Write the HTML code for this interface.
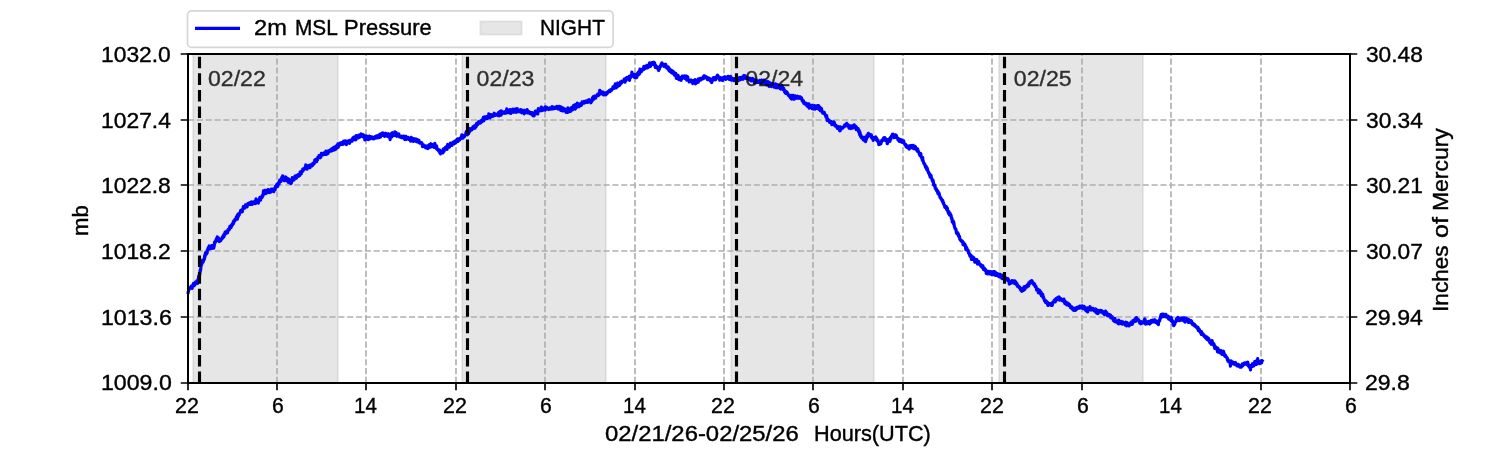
<!DOCTYPE html><html><head><meta charset="utf-8"><style>html,body{margin:0;padding:0;background:#fff;overflow:hidden}svg{display:block;will-change:transform}text{font-family:"Liberation Sans",sans-serif;stroke:#000;stroke-width:0.4px}</style></head><body>
<svg width="1500" height="450" viewBox="0 0 1500 450">
<rect x="0" y="0" width="1500" height="450" fill="#fff"/>
<rect x="193" y="54" width="145" height="329" fill="#808080" fill-opacity="0.2" stroke="#808080" stroke-opacity="0.14" stroke-width="2.08"/>
<rect x="462" y="54" width="144" height="329" fill="#808080" fill-opacity="0.2" stroke="#808080" stroke-opacity="0.14" stroke-width="2.08"/>
<rect x="731" y="54" width="143" height="329" fill="#808080" fill-opacity="0.2" stroke="#808080" stroke-opacity="0.14" stroke-width="2.08"/>
<rect x="999" y="54" width="144" height="329" fill="#808080" fill-opacity="0.2" stroke="#808080" stroke-opacity="0.14" stroke-width="2.08"/>
<path d="M188 383V54M277 383V54M366 383V54M456 383V54M545 383V54M635 383V54M724 383V54M813 383V54M903 383V54M992 383V54M1082 383V54M1171 383V54M1261 383V54M1350 383V54M188 383H1350M188 317H1350M188 251H1350M188 185H1350M188 120H1350M188 54H1350" stroke="#b0b0b0" stroke-width="1.67" stroke-dasharray="6.17 2.67" fill="none"/>
<path d="M188.2 292.5 188.5 290.82 188.8 290.16 189.1 287.86 189.4 289.14 189.7 288.74 190 288.7 190.3 287.83 190.6 288.1 190.9 287.34 191.2 286.18 191.5 288.07 191.8 287.75 192.1 288.26 192.4 286.27 192.7 285.49 193 285.03 193.3 283.7 193.6 285.93 193.9 283.51 194.2 283.11 194.5 283.77 194.8 285.16 195.1 283.58 195.4 281.99 195.7 281.98 196 283.11 196.3 282.1 196.6 281.27 196.9 281.59 197.2 282.35 197.5 283.38 197.8 279.91 198.1 280.32 198.4 279.51 198.7 276.43 199 276.48 199.3 274.92 199.6 275.64 199.9 272.92 200.2 269.96 200.5 270.8 200.8 268.33 201.1 265.48 201.4 265.18 201.7 264.18 202 263.09 202.3 263.2 202.6 260.11 202.9 261.31 203.2 261.8 203.5 260.84 203.8 260.3 204.1 259.52 204.4 259.09 204.7 255.67 205 256.85 205.3 253.45 205.6 254.04 205.9 252.05 206.2 254.36 206.5 253.97 206.8 251.75 207.1 253.06 207.4 249.92 207.7 250.08 208 249.4 208.3 247.5 208.6 248.34 208.9 249.18 209.2 245.97 209.5 247.91 209.8 246.84 210.1 248.78 210.4 247.49 210.7 247.68 211 247.65 211.3 247.25 211.6 245.59 211.9 248.4 212.2 245.62 212.5 247.24 212.8 247.62 213.1 246.16 213.4 247.15 213.7 248.18 214 246.98 214.3 245.15 214.6 242.16 214.9 243.17 215.2 242.6 215.5 241.73 215.8 240.33 216.1 240.73 216.4 238.82 216.7 238.34 217 238.18 217.3 236.99 217.6 237.9 217.9 240.72 218.2 239.78 218.5 237.95 218.8 239.52 219.1 240.52 219.4 241.54 219.7 240.8 220 240.47 220.3 239.84 220.6 240.81 220.9 240.06 221.2 238.8 221.5 238.71 221.8 238.06 222.1 238.79 222.4 236.94 222.7 237.71 223 237.66 223.3 236.87 223.6 235.12 223.9 236.89 224.2 234.44 224.5 235.13 224.8 233.52 225.1 232.12 225.4 233.75 225.7 233.45 226 232.72 226.3 232.72 226.6 231.43 226.9 230.98 227.2 231.19 227.5 232.92 227.8 231.46 228.1 229.76 228.4 230.48 228.7 229.08 229 228.74 229.3 229.71 229.6 227.95 229.9 226.43 230.2 226.77 230.5 227.3 230.8 226.87 231.1 227.52 231.4 225.08 231.7 226.07 232 225.29 232.3 224.24 232.6 224.76 232.9 223.94 233.2 222.1 233.5 223.58 233.8 220.8 234.1 221.62 234.4 221.09 234.7 221.04 235 219.41 235.3 219.64 235.6 219.06 235.9 219.73 236.2 217.46 236.5 217.86 236.8 217.05 237.1 215.56 237.4 219.16 237.7 215.99 238 214.17 238.3 216.69 238.6 213.79 238.9 214.84 239.2 214.94 239.5 213.01 239.8 212.83 240.1 212.32 240.4 212.34 240.7 210.43 241 210.42 241.3 211.12 241.6 211.91 241.9 211.1 242.2 211.81 242.5 210.37 242.8 208.75 243.1 208.78 243.4 206.55 243.7 207.33 244 206.97 244.3 207.97 244.6 208.05 244.9 206.54 245.2 206.21 245.5 204.94 245.8 206.07 246.1 206.15 246.4 206.05 246.7 204.51 247 207 247.3 205.9 247.6 204.3 247.9 203.57 248.2 203.48 248.5 203.65 248.8 203.18 249.1 203.47 249.4 203.71 249.7 204.26 250 203.99 250.3 202.67 250.6 203.12 250.9 202.29 251.2 202.04 251.5 204.51 251.8 202.07 252.1 204.49 252.4 202.08 252.7 202.64 253 203.43 253.3 202.31 253.6 202.63 253.9 201.94 254.2 201.65 254.5 201.92 254.8 201.38 255.1 203.59 255.4 201.63 255.7 203.39 256 198.8 256.3 201.37 256.6 201.77 256.9 200.75 257.2 202 257.5 201.39 257.8 200.32 258.1 200.89 258.4 203.13 258.7 200.4 259 200.3 259.3 199.11 259.6 199.23 259.9 197.35 260.2 198 260.5 200.23 260.8 198.38 261.1 197.5 261.4 197.51 261.7 197.85 262 196.1 262.3 197.14 262.6 195.68 262.9 194.32 263.2 195.43 263.5 190.87 263.8 192.22 264.1 192.62 264.4 190.98 264.7 191.29 265 190.36 265.3 190.34 265.6 193.73 265.9 191.63 266.2 190.95 266.5 192.32 266.8 190.76 267.1 191.89 267.4 191.35 267.7 192.64 268 189.57 268.3 191.77 268.6 191.12 268.9 189.83 269.2 192.07 269.5 190.12 269.8 192.63 270.1 191.52 270.4 191.7 270.7 191.08 271 191.91 271.3 189.12 271.6 191.08 271.9 190.37 272.2 191.08 272.5 190.45 272.8 190.82 273.1 189.06 273.4 191.45 273.7 191.63 274 188.79 274.3 188.68 274.6 188.69 274.9 189.37 275.2 189.71 275.5 186.29 275.8 186.58 276.1 185.83 276.4 185.48 276.7 184.65 277 186.37 277.3 184.35 277.6 186.55 277.9 185.47 278.2 183.04 278.5 182.56 278.8 182.5 279.1 184.05 279.4 181.3 279.7 180.18 280 181.15 280.3 181.1 280.6 179.58 280.9 181.39 281.2 179.52 281.5 179.26 281.8 177.46 282.1 177.99 282.4 177.98 282.7 175.94 283 178.62 283.3 176.63 283.6 178.5 283.9 177.15 284.2 180.77 284.5 179.16 284.8 179.8 285.1 179.96 285.4 177.8 285.7 176.93 286 179 286.3 180.34 286.6 179.63 286.9 180.42 287.2 180.68 287.5 178.33 287.8 180.22 288.1 182.13 288.4 180.03 288.7 179.01 289 181.27 289.3 181.48 289.6 182.82 289.9 181.95 290.2 182.89 290.5 180.27 290.8 183.06 291.1 183.5 291.4 182.91 291.7 179.77 292 181.32 292.3 177.69 292.6 180.69 292.9 180.04 293.2 178.8 293.5 179.85 293.8 179.34 294.1 179.85 294.4 178.73 294.7 178.54 295 176.04 295.3 176.53 295.6 176.92 295.9 177.4 296.2 176.83 296.5 178.1 296.8 175.46 297.1 175.84 297.4 176.09 297.7 175.35 298 175.83 298.3 174.51 298.6 176.26 298.9 174.26 299.2 175.46 299.5 174.05 299.8 175.34 300.1 172.17 300.4 173.85 300.7 172.65 301 173.07 301.3 173.78 301.6 171.19 301.9 170.75 302.2 170.73 302.5 171.59 302.8 169.03 303.1 170.63 303.4 168.84 303.7 168.58 304 168.96 304.3 169.32 304.6 167.9 304.9 167.64 305.2 167.87 305.5 167.51 305.8 164.96 306.1 167.1 306.4 167.49 306.7 168.38 307 169.2 307.3 167.69 307.6 166.97 307.9 165.79 308.2 166.72 308.5 167.28 308.8 167.65 309.1 165.36 309.4 166.35 309.7 166.81 310 167.73 310.3 165.99 310.6 165.05 310.9 164.78 311.2 164.98 311.5 164.56 311.8 165.92 312.1 165.97 312.4 165.29 312.7 165.43 313 163.44 313.3 163.95 313.6 162.85 313.9 162.95 314.2 163.81 314.5 162.22 314.8 160.04 315.1 161.34 315.4 160.54 315.7 159.41 316 159.8 316.3 161.24 316.6 161.63 316.9 159.12 317.2 160.29 317.5 160.14 317.8 157.45 318.1 158.25 318.4 157.92 318.7 157.8 319 155.69 319.3 156.62 319.6 157.71 319.9 157.58 320.2 157.82 320.5 155.31 320.8 157.2 321.1 155.66 321.4 153.29 321.7 155.1 322 153.65 322.3 154.42 322.6 153.7 322.9 154.92 323.2 153.86 323.5 153.22 323.8 154.37 324.1 153.56 324.4 152.78 324.7 154.39 325 152.59 325.3 152.26 325.6 152.26 325.9 151.22 326.2 152.04 326.5 154.37 326.8 151.49 327.1 152.31 327.4 151.08 327.7 151.48 328 153.53 328.3 152.75 328.6 151.09 328.9 151.56 329.2 150.57 329.5 150.46 329.8 150.18 330.1 150.05 330.4 151.13 330.7 151.25 331 150.99 331.3 150.18 331.6 148.83 331.9 149.98 332.2 148.97 332.5 150.64 332.8 150.16 333.1 150.2 333.4 148.95 333.7 147.33 334 149.96 334.3 149.99 334.6 147.01 334.9 148.39 335.2 149.2 335.5 146.67 335.8 149.28 336.1 146.9 336.4 145.92 336.7 148.13 337 146.8 337.3 145.59 337.6 146.89 337.9 143.78 338.2 147.33 338.5 144.43 338.8 145.29 339.1 144.35 339.4 144.94 339.7 145.14 340 143.17 340.3 144.72 340.6 143.55 340.9 143.08 341.2 143.47 341.5 142.61 341.8 142.75 342.1 144.43 342.4 143.25 342.7 144.47 343 143.68 343.3 142.14 343.6 141.19 343.9 142.33 344.2 143.22 344.5 142.88 344.8 141.96 345.1 143.75 345.4 140.89 345.7 141.31 346 142.63 346.3 144.63 346.6 142.77 346.9 141.26 347.2 142.8 347.5 142.81 347.8 142.99 348.1 141.54 348.4 140.99 348.7 141.77 349 141.92 349.3 142.96 349.6 143.3 349.9 140.31 350.2 140.37 350.5 140.69 350.8 140.35 351.1 140.94 351.4 140.79 351.7 140.41 352 141.35 352.3 139.69 352.6 138.64 352.9 137.98 353.2 138.36 353.5 138.2 353.8 137.2 354.1 139.61 354.4 138.96 354.7 138.17 355 137.53 355.3 136.66 355.6 137.16 355.9 139.78 356.2 135.52 356.5 137.71 356.8 138.15 357.1 137.37 357.4 136.74 357.7 137.66 358 135.6 358.3 137.1 358.6 137.81 358.9 135.15 359.2 135.2 359.5 135.99 359.8 136.68 360.1 136.86 360.4 136.03 360.7 134.5 361 133.88 361.3 135.37 361.6 135.66 361.9 134.28 362.2 135.57 362.5 135.98 362.8 136.82 363.1 134.9 363.4 136.59 363.7 134.98 364 135.86 364.3 136.34 364.6 138.07 364.9 140.01 365.2 137.06 365.5 137.43 365.8 138.07 366.1 135.81 366.4 138.09 366.7 136.19 367 139.21 367.3 139.15 367.6 138.33 367.9 137.14 368.2 139.66 368.5 138.2 368.8 138.01 369.1 138.45 369.4 136.1 369.7 138.22 370 138.75 370.3 138.05 370.6 137.82 370.9 136.68 371.2 138.25 371.5 137.76 371.8 137.53 372.1 136.92 372.4 138.31 372.7 138.67 373 137.77 373.3 138.24 373.6 138.64 373.9 138.86 374.2 137.45 374.5 136.97 374.8 136.73 375.1 137.13 375.4 137.63 375.7 137.98 376 136.57 376.3 137.04 376.6 135.77 376.9 137.94 377.2 136.16 377.5 136.8 377.8 135.6 378.1 135.91 378.4 135.41 378.7 137.7 379 136.24 379.3 135.59 379.6 134.7 379.9 134.92 380.2 136 380.5 136.99 380.8 133.76 381.1 134.16 381.4 134.8 381.7 134.23 382 133.08 382.3 134.66 382.6 135.28 382.9 132.82 383.2 134.51 383.5 135.16 383.8 135.06 384.1 133.61 384.4 136.45 384.7 134.79 385 133.52 385.3 135.42 385.6 133.4 385.9 135.54 386.2 133.46 386.5 135.63 386.8 134.35 387.1 136.17 387.4 135.88 387.7 135.68 388 135.39 388.3 136.53 388.6 133.72 388.9 136.07 389.2 136.15 389.5 136.4 389.8 136.77 390.1 139.69 390.4 135.96 390.7 136.53 391 135.75 391.3 137.06 391.6 133.32 391.9 136.95 392.2 134.43 392.5 132.72 392.8 133.79 393.1 134.58 393.4 134.84 393.7 134.47 394 135.22 394.3 134.24 394.6 134.1 394.9 131.88 395.2 134.57 395.5 135.22 395.8 133.9 396.1 132.55 396.4 133.21 396.7 136.37 397 134.19 397.3 134.25 397.6 134.21 397.9 135.85 398.2 134.69 398.5 134.52 398.8 134 399.1 135.53 399.4 136.77 399.7 135.73 400 136.89 400.3 136.3 400.6 136.39 400.9 136.54 401.2 136.51 401.5 137.63 401.8 137.21 402.1 136.26 402.4 137.09 402.7 137 403 137.69 403.3 137.5 403.6 137.86 403.9 136.07 404.2 138.06 404.5 139.12 404.8 136.56 405.1 139.63 405.4 138.38 405.7 137.93 406 136.38 406.3 139.36 406.6 137.34 406.9 137.87 407.2 138.99 407.5 137.47 407.8 137.57 408.1 137.46 408.4 138.57 408.7 139.33 409 139.21 409.3 139.27 409.6 138.57 409.9 139.12 410.2 138.34 410.5 141.11 410.8 139.36 411.1 137.25 411.4 138.2 411.7 140.95 412 138.02 412.3 139.02 412.6 139.93 412.9 138.48 413.2 140.71 413.5 141.39 413.8 138.93 414.1 140.96 414.4 138.98 414.7 138.93 415 140.25 415.3 140.39 415.6 139.7 415.9 141.3 416.2 139.12 416.5 139.89 416.8 139.81 417.1 141.81 417.4 142.01 417.7 142.02 418 140.19 418.3 141.78 418.6 142.26 418.9 140.32 419.2 141.27 419.5 142.9 419.8 143.11 420.1 142.81 420.4 143.25 420.7 143.18 421 143.15 421.3 143.14 421.6 142.62 421.9 143.5 422.2 143.59 422.5 146.58 422.8 144.76 423.1 144.74 423.4 144.77 423.7 145.13 424 145.23 424.3 146.3 424.6 145.97 424.9 147.07 425.2 145.8 425.5 147.1 425.8 147.88 426.1 146.09 426.4 147.67 426.7 148 427 147.66 427.3 147.33 427.6 145.77 427.9 148.62 428.2 146.34 428.5 145.85 428.8 147.58 429.1 144.89 429.4 147.53 429.7 146.82 430 146.8 430.3 145.85 430.6 144.61 430.9 143.76 431.2 146.95 431.5 144.82 431.8 144.6 432.1 146.64 432.4 144.56 432.7 145.11 433 145.26 433.3 145.51 433.6 144.75 433.9 145.39 434.2 147.39 434.5 147.02 434.8 143.4 435.1 144.58 435.4 147.04 435.7 146.74 436 146.62 436.3 148.41 436.6 145.92 436.9 149.29 437.2 148.57 437.5 149.35 437.8 149.42 438.1 150.37 438.4 149.63 438.7 149.69 439 151.39 439.3 151.14 439.6 150.06 439.9 153.04 440.2 153.26 440.5 153.85 440.8 152.84 441.1 153.25 441.4 152.22 441.7 151.32 442 152.07 442.3 151.88 442.6 150.73 442.9 152.94 443.2 149.17 443.5 149.68 443.8 149.52 444.1 151.2 444.4 149.34 444.7 148.97 445 148.11 445.3 147.93 445.6 147.09 445.9 149.12 446.2 148.41 446.5 148.5 446.8 146.53 447.1 149.47 447.4 145.76 447.7 144.49 448 146.08 448.3 146.33 448.6 146.76 448.9 144.79 449.2 146.22 449.5 147.16 449.8 144.39 450.1 144.32 450.4 143.16 450.7 144.93 451 145.36 451.3 145.09 451.6 144.96 451.9 145.36 452.2 143.88 452.5 144.52 452.8 142.42 453.1 142.39 453.4 143.24 453.7 141.99 454 143.2 454.3 143.82 454.6 142.66 454.9 141.32 455.2 141.11 455.5 143.03 455.8 140.64 456.1 141.32 456.4 140.76 456.7 140.86 457 141.7 457.3 139.85 457.6 138.76 457.9 141.43 458.2 139.98 458.5 140.28 458.8 139.32 459.1 139.91 459.4 140.19 459.7 140.09 460 138.22 460.3 137.94 460.6 138.48 460.9 138.08 461.2 138.23 461.5 136.73 461.8 134.9 462.1 137.48 462.4 137.61 462.7 137.26 463 138.07 463.3 137.05 463.6 135.59 463.9 136.76 464.2 135.47 464.5 136.61 464.8 135.38 465.1 135.37 465.4 134.87 465.7 134.42 466 132.59 466.3 133.89 466.6 131.27 466.9 133.79 467.2 134.02 467.5 134.82 467.8 132.86 468.1 131.49 468.4 130.34 468.7 133.63 469 129.96 469.3 132.03 469.6 128.54 469.9 130.54 470.2 131.01 470.5 130.38 470.8 129.74 471.1 128.68 471.4 128.33 471.7 129.99 472 129.14 472.3 128.27 472.6 128.37 472.9 126.96 473.2 128.65 473.5 128.62 473.8 126.29 474.1 126.91 474.4 127.6 474.7 125.62 475 128.05 475.3 127.28 475.6 125.24 475.9 126.27 476.2 126.71 476.5 123.55 476.8 125.18 477.1 124.17 477.4 123.86 477.7 124.56 478 123.12 478.3 121.95 478.6 121.69 478.9 122.86 479.2 123.27 479.5 122.38 479.8 122.01 480.1 121.9 480.4 123.02 480.7 122.04 481 120.55 481.3 120.8 481.6 122.09 481.9 120.08 482.2 120.06 482.5 120.22 482.8 118.96 483.1 120.73 483.4 117.41 483.7 120.87 484 118.76 484.3 117.72 484.6 119.06 484.9 116.84 485.2 118.89 485.5 118.92 485.8 117.35 486.1 117.33 486.4 118.47 486.7 116.62 487 117.2 487.3 117.41 487.6 118.52 487.9 116.32 488.2 116.74 488.5 117.73 488.8 113.9 489.1 116.08 489.4 114.31 489.7 114.26 490 117.97 490.3 116.09 490.6 117.26 490.9 115.4 491.2 116.07 491.5 114.97 491.8 114.74 492.1 115.1 492.4 115.18 492.7 116.48 493 114.62 493.3 115.08 493.6 114.39 493.9 114.74 494.2 113.22 494.5 115.59 494.8 113.91 495.1 114.43 495.4 114.12 495.7 115.27 496 114.75 496.3 114.19 496.6 114.3 496.9 114.42 497.2 114.78 497.5 114.48 497.8 115.21 498.1 115.49 498.4 114.43 498.7 112.42 499 115.46 499.3 115.82 499.6 113.23 499.9 113.13 500.2 111.42 500.5 114.22 500.8 112.37 501.1 115.18 501.4 110.78 501.7 113.27 502 113.8 502.3 112.64 502.6 112.17 502.9 113.15 503.2 112.29 503.5 112.4 503.8 112.64 504.1 112.04 504.4 112.3 504.7 113.24 505 111.98 505.3 112.47 505.6 111.46 505.9 113.07 506.2 110.78 506.5 112.96 506.8 108.88 507.1 110.93 507.4 110.17 507.7 112.72 508 111.9 508.3 110.23 508.6 110.9 508.9 112.75 509.2 111.26 509.5 111.84 509.8 109.72 510.1 109.7 510.4 111.76 510.7 113.48 511 110.58 511.3 111.7 511.6 110.12 511.9 112.3 512.2 110.56 512.5 110.55 512.8 109.05 513.1 110.51 513.4 111.09 513.7 112.26 514 109.67 514.3 111.81 514.6 110.45 514.9 110.48 515.2 109.78 515.5 109 515.8 109.46 516.1 112.3 516.4 109.48 516.7 110.26 517 111.83 517.3 108.61 517.6 111.2 517.9 110.26 518.2 110.98 518.5 111.68 518.8 110.67 519.1 110.65 519.4 111.6 519.7 111.53 520 110.18 520.3 110.73 520.6 109.59 520.9 112.26 521.2 109.76 521.5 111.19 521.8 112.78 522.1 111.85 522.4 110.77 522.7 110.35 523 110.47 523.3 112.05 523.6 111.49 523.9 111.16 524.2 113.81 524.5 110.37 524.8 110.74 525.1 110.87 525.4 111.53 525.7 111.75 526 111.29 526.3 112.43 526.6 112.36 526.9 111.64 527.2 109.6 527.5 112.99 527.8 111.36 528.1 111.79 528.4 112.42 528.7 111.44 529 112 529.3 113 529.6 112.71 529.9 113.5 530.2 112.43 530.5 113.19 530.8 112.48 531.1 113.39 531.4 114.09 531.7 113.68 532 112.61 532.3 113.99 532.6 114.46 532.9 115.58 533.2 114.53 533.5 114.04 533.8 113.03 534.1 115.97 534.4 112.77 534.7 112.35 535 113.09 535.3 111.17 535.6 113.84 535.9 112.71 536.2 112.77 536.5 111.05 536.8 111.29 537.1 112.42 537.4 112.23 537.7 113.93 538 111.94 538.3 108.69 538.6 110.45 538.9 109.75 539.2 110.98 539.5 109.55 539.8 109.89 540.1 108.91 540.4 109.83 540.7 110.67 541 108.56 541.3 107.11 541.6 108.1 541.9 110.69 542.2 109.33 542.5 108.79 542.8 108.09 543.1 110.1 543.4 109.32 543.7 108.89 544 108.44 544.3 108.81 544.6 108.63 544.9 109.51 545.2 110.19 545.5 106.92 545.8 107.41 546.1 108.76 546.4 108.91 546.7 107.25 547 108.17 547.3 108.37 547.6 108.31 547.9 108.27 548.2 108.63 548.5 109.59 548.8 109.42 549.1 109.26 549.4 108.91 549.7 107.85 550 108.04 550.3 109.17 550.6 108.53 550.9 109.17 551.2 108.58 551.5 108.32 551.8 108.65 552.1 106.61 552.4 107.94 552.7 107.46 553 108.85 553.3 107.27 553.6 108.13 553.9 107.41 554.2 108.26 554.5 108.45 554.8 107.47 555.1 107.73 555.4 107.75 555.7 108.3 556 107.13 556.3 107.45 556.6 106.93 556.9 106.33 557.2 107.42 557.5 107.73 557.8 106.6 558.1 109.11 558.4 106.88 558.7 108.5 559 108.23 559.3 106.25 559.6 108.05 559.9 106.6 560.2 108.19 560.5 109.09 560.8 110.38 561.1 109.42 561.4 107.2 561.7 108.5 562 110.48 562.3 109.26 562.6 110.97 562.9 108.55 563.2 108.81 563.5 108.1 563.8 109.17 564.1 110.91 564.4 108.8 564.7 110.67 565 110.38 565.3 110.8 565.6 109.84 565.9 110.21 566.2 112.43 566.5 109.11 566.8 111.23 567.1 112.09 567.4 111.11 567.7 112.4 568 107.83 568.3 110.61 568.6 109.82 568.9 110.67 569.2 111.07 569.5 111.54 569.8 109.95 570.1 111.46 570.4 108.75 570.7 111.07 571 109.61 571.3 107.83 571.6 107.59 571.9 107.33 572.2 107.9 572.5 108.78 572.8 109.75 573.1 108.98 573.4 106.6 573.7 105.38 574 107.16 574.3 105.79 574.6 106.81 574.9 106.05 575.2 109.1 575.5 104.53 575.8 106.35 576.1 107.7 576.4 105.28 576.7 104.78 577 107.13 577.3 103.16 577.6 103.44 577.9 103.8 578.2 105.32 578.5 105.56 578.8 104.53 579.1 106.73 579.4 104.19 579.7 104.27 580 103.84 580.3 105.26 580.6 103.91 580.9 103.37 581.2 105.35 581.5 104.83 581.8 104.41 582.1 101.98 582.4 102.06 582.7 102.77 583 102.63 583.3 102.33 583.6 102.41 583.9 103.17 584.2 101.36 584.5 102.51 584.8 101.73 585.1 101.52 585.4 101.61 585.7 102.58 586 102.04 586.3 100.9 586.6 101.96 586.9 101.69 587.2 101.91 587.5 101.15 587.8 102.36 588.1 101.67 588.4 100.06 588.7 99.85 589 99.65 589.3 101.41 589.6 100.24 589.9 100.51 590.2 100.73 590.5 101.97 590.8 102.81 591.1 100.22 591.4 102.08 591.7 100.36 592 100.76 592.3 98.99 592.6 97.75 592.9 99.23 593.2 99.78 593.5 96.63 593.8 97.88 594.1 97.9 594.4 98.02 594.7 96.05 595 96.32 595.3 97.56 595.6 98.18 595.9 96.19 596.2 96.85 596.5 95.83 596.8 95.89 597.1 94.86 597.4 94.82 597.7 94.27 598 94.75 598.3 95.56 598.6 94.43 598.9 94.7 599.2 93.19 599.5 94.36 599.8 90.24 600.1 91.87 600.4 93.01 600.7 91.54 601 94 601.3 93.67 601.6 92.58 601.9 93.64 602.2 92.05 602.5 92.71 602.8 93.27 603.1 92.07 603.4 94.8 603.7 93.11 604 94.86 604.3 93.71 604.6 94.22 604.9 93.02 605.2 93.67 605.5 93.43 605.8 93.88 606.1 94.82 606.4 92.65 606.7 92.85 607 93.17 607.3 93.46 607.6 92.27 607.9 91.79 608.2 91.37 608.5 91.76 608.8 91.79 609.1 90.64 609.4 90.81 609.7 91.68 610 90.68 610.3 89.91 610.6 91 610.9 90.79 611.2 90.48 611.5 90.32 611.8 89.04 612.1 89.43 612.4 89.32 612.7 88.9 613 86.78 613.3 88.31 613.6 88.45 613.9 88.37 614.2 87.35 614.5 87.46 614.8 85.38 615.1 85.47 615.4 83.76 615.7 86.29 616 87.94 616.3 87.84 616.6 84.71 616.9 86.28 617.2 86.67 617.5 84.87 617.8 82.97 618.1 86.16 618.4 84.14 618.7 83.88 619 85.78 619.3 84.3 619.6 84.45 619.9 85 620.2 83.02 620.5 81.99 620.8 83.58 621.1 82.59 621.4 83.14 621.7 82.6 622 81.23 622.3 81.83 622.6 81.27 622.9 81.17 623.2 81.17 623.5 81.37 623.8 81.03 624.1 79.34 624.4 81.06 624.7 78.78 625 82.26 625.3 79.06 625.6 79.57 625.9 80.79 626.2 79.04 626.5 77.76 626.8 77.4 627.1 78.93 627.4 78.86 627.7 79.08 628 78.32 628.3 77.31 628.6 78.03 628.9 78.76 629.2 76.25 629.5 80.41 629.8 76.14 630.1 77.58 630.4 77.97 630.7 76.74 631 75.88 631.3 76.05 631.6 76.42 631.9 72.16 632.2 75.34 632.5 74.66 632.8 74.56 633.1 75.57 633.4 75.83 633.7 76.34 634 75.45 634.3 77.37 634.6 74.31 634.9 75.64 635.2 75.58 635.5 77.1 635.8 76.68 636.1 77.7 636.4 75.92 636.7 77.56 637 76.56 637.3 74.84 637.6 73.2 637.9 73.25 638.2 72.44 638.5 74.8 638.8 73.86 639.1 71.37 639.4 74.1 639.7 71.45 640 69.02 640.3 72.19 640.6 72.2 640.9 70.69 641.2 69.57 641.5 71.52 641.8 69.56 642.1 69.84 642.4 70.13 642.7 69.76 643 68.78 643.3 67.98 643.6 69.59 643.9 66.39 644.2 68.75 644.5 68.48 644.8 68.54 645.1 67.43 645.4 67.82 645.7 68.19 646 66.13 646.3 67.03 646.6 67.16 646.9 65.33 647.2 65.49 647.5 67.89 647.8 67.18 648.1 65.23 648.4 66.56 648.7 66.09 649 66.94 649.3 66.52 649.6 62.76 649.9 64.75 650.2 66.29 650.5 66.4 650.8 63.97 651.1 63.19 651.4 64.54 651.7 63.48 652 63.96 652.3 62.64 652.6 64.44 652.9 64.09 653.2 63.82 653.5 62.42 653.8 62.16 654.1 62.9 654.4 65.03 654.7 63.04 655 65.86 655.3 67.31 655.6 65.23 655.9 66 656.2 67.52 656.5 67.78 656.8 66.57 657.1 67.35 657.4 67.98 657.7 67.93 658 69.11 658.3 69.2 658.6 70.51 658.9 67.18 659.2 69.48 659.5 68.5 659.8 66.93 660.1 66.88 660.4 66.83 660.7 65.54 661 64.37 661.3 64.29 661.6 63.41 661.9 62.88 662.2 63.42 662.5 63.62 662.8 64.69 663.1 65.4 663.4 64.94 663.7 66.26 664 64.8 664.3 64.34 664.6 64.35 664.9 64.28 665.2 64.98 665.5 66.94 665.8 64.42 666.1 66.81 666.4 66.6 666.7 67.81 667 66.85 667.3 68.41 667.6 67.53 667.9 69.02 668.2 66.77 668.5 69.59 668.8 70.2 669.1 68.2 669.4 70.96 669.7 69.14 670 71.47 670.3 70.66 670.6 71.54 670.9 71.41 671.2 70.01 671.5 72.96 671.8 72.81 672.1 70.74 672.4 72.53 672.7 72.61 673 71.64 673.3 71.46 673.6 73.99 673.9 72.48 674.2 73.98 674.5 75.17 674.8 74 675.1 73.02 675.4 75.31 675.7 73.34 676 74.22 676.3 78.49 676.6 75.14 676.9 76.7 677.2 75.69 677.5 77.04 677.8 77.77 678.1 75.3 678.4 77.71 678.7 79.44 679 79.56 679.3 78.93 679.6 77.55 679.9 78.81 680.2 77.82 680.5 77.45 680.8 78.13 681.1 80.34 681.4 77.04 681.7 78.91 682 78.03 682.3 76.18 682.6 76.67 682.9 77.32 683.2 76.93 683.5 77.58 683.8 76.22 684.1 76.11 684.4 78.05 684.7 76.91 685 76 685.3 76.76 685.6 78.88 685.9 76.71 686.2 76.07 686.5 78.78 686.8 80.08 687.1 79.64 687.4 77.31 687.7 76.83 688 80.44 688.3 79.26 688.6 80.21 688.9 79.78 689.2 81.93 689.5 80.58 689.8 80.45 690.1 81.18 690.4 80.1 690.7 81.74 691 81.75 691.3 79.97 691.6 81.22 691.9 81.37 692.2 81.08 692.5 82.93 692.8 83.62 693.1 82.71 693.4 80.8 693.7 80.41 694 82.9 694.3 81.71 694.6 81.83 694.9 80.53 695.2 79.7 695.5 83.89 695.8 80.95 696.1 81.28 696.4 80.23 696.7 82.83 697 80.84 697.3 80.94 697.6 81.06 697.9 80.91 698.2 82.26 698.5 78.91 698.8 81.25 699.1 79.81 699.4 79.84 699.7 79.45 700 80.31 700.3 78.41 700.6 78.98 700.9 79.9 701.2 78.58 701.5 78.49 701.8 79.17 702.1 78.7 702.4 78.09 702.7 78.3 703 77.17 703.3 78.74 703.6 76.59 703.9 75.89 704.2 77.76 704.5 75.82 704.8 76 705.1 76.56 705.4 77.44 705.7 76.47 706 76.72 706.3 76.96 706.6 77.99 706.9 77.32 707.2 78.29 707.5 79.64 707.8 78.27 708.1 78.34 708.4 78 708.7 78.39 709 78.13 709.3 78.49 709.6 79.23 709.9 80.38 710.2 80.75 710.5 80.05 710.8 80.9 711.1 79.12 711.4 82.35 711.7 82.6 712 79.84 712.3 80.31 712.6 79.75 712.9 80.28 713.2 78.71 713.5 77.66 713.8 79.84 714.1 77.78 714.4 79.08 714.7 77.64 715 77.64 715.3 79.25 715.6 79.73 715.9 77.8 716.2 77.37 716.5 77.94 716.8 76.94 717.1 75.59 717.4 77.27 717.7 75.23 718 78.1 718.3 77.35 718.6 78.24 718.9 76.76 719.2 77.67 719.5 79.18 719.8 80.17 720.1 79.76 720.4 79.28 720.7 77.74 721 79.4 721.3 78.93 721.6 78.45 721.9 80.05 722.2 77.93 722.5 80.45 722.8 78 723.1 77.94 723.4 78.49 723.7 77.23 724 78.06 724.3 78.58 724.6 76.76 724.9 77.6 725.2 77.01 725.5 77.93 725.8 79.49 726.1 77.88 726.4 78.1 726.7 78.48 727 77.11 727.3 78.42 727.6 77.64 727.9 77.48 728.2 76.38 728.5 77.44 728.8 79.09 729.1 79.23 729.4 77.69 729.7 78.03 730 77.5 730.3 76.94 730.6 76.35 730.9 80 731.2 77.42 731.5 78.74 731.8 80.21 732.1 78.39 732.4 78.73 732.7 79.29 733 78.78 733.3 79.52 733.6 79.05 733.9 80.65 734.2 80.13 734.5 78.57 734.8 78.54 735.1 79.3 735.4 79.27 735.7 79.08 736 80.7 736.3 78.99 736.6 79.19 736.9 79.74 737.2 77.54 737.5 79.91 737.8 80 738.1 80.77 738.4 78.32 738.7 78.78 739 79.4 739.3 78.75 739.6 77.6 739.9 79.92 740.2 78.61 740.5 79.09 740.8 77.51 741.1 79.41 741.4 77.94 741.7 77.42 742 78.79 742.3 78.96 742.6 76.76 742.9 78.55 743.2 79.03 743.5 77.51 743.8 75.68 744.1 77.52 744.4 77.87 744.7 75.63 745 78.18 745.3 76.46 745.6 76.68 745.9 78.06 746.2 77.32 746.5 78.51 746.8 77.39 747.1 77.95 747.4 77.73 747.7 78.1 748 78.59 748.3 78.64 748.6 78 748.9 79.4 749.2 78.52 749.5 79.97 749.8 79.53 750.1 78.97 750.4 78.47 750.7 79.4 751 80.9 751.3 79.85 751.6 80.79 751.9 79.87 752.2 79.79 752.5 79.56 752.8 78.45 753.1 80.87 753.4 80.74 753.7 80.8 754 81.79 754.3 80.16 754.6 83.01 754.9 79.98 755.2 81.75 755.5 80.3 755.8 81.23 756.1 82.67 756.4 80 756.7 81.68 757 81.61 757.3 81.68 757.6 81.75 757.9 82.3 758.2 81.99 758.5 81.88 758.8 82.39 759.1 82.16 759.4 81.37 759.7 80.26 760 82.29 760.3 81.18 760.6 83.21 760.9 81.02 761.2 80.4 761.5 82.78 761.8 80.92 762.1 80.19 762.4 82.92 762.7 80.3 763 83.12 763.3 80.86 763.6 82.26 763.9 82.1 764.2 80.08 764.5 81.92 764.8 81.54 765.1 82.15 765.4 82.68 765.7 83.86 766 82.15 766.3 82.41 766.6 84.8 766.9 83.48 767.2 83.63 767.5 81.45 767.8 81.7 768.1 82.67 768.4 83.16 768.7 83.96 769 86.34 769.3 82.44 769.6 83.41 769.9 84.58 770.2 84.33 770.5 85.3 770.8 83.99 771.1 83.49 771.4 86.61 771.7 85.06 772 83.53 772.3 84.5 772.6 84.89 772.9 83.56 773.2 85.96 773.5 85.44 773.8 85.03 774.1 84.85 774.4 87.28 774.7 85.65 775 85.06 775.3 83.89 775.6 84.99 775.9 86.87 776.2 87.79 776.5 85.22 776.8 84.45 777.1 86.65 777.4 86.68 777.7 87.71 778 86.24 778.3 87.12 778.6 85.2 778.9 85.89 779.2 86.64 779.5 86.81 779.8 87.85 780.1 88.61 780.4 86 780.7 89.19 781 86.8 781.3 87.19 781.6 88.81 781.9 85.32 782.2 86.33 782.5 87.02 782.8 88 783.1 89.22 783.4 89.73 783.7 88.21 784 90.39 784.3 89.71 784.6 92.13 784.9 90.85 785.2 92.7 785.5 91.1 785.8 93.42 786.1 91.66 786.4 93.35 786.7 91.81 787 93.49 787.3 93.04 787.6 93.06 787.9 94.48 788.2 95.23 788.5 94.76 788.8 95.16 789.1 95.77 789.4 96.47 789.7 96.47 790 96.05 790.3 97.86 790.6 95.54 790.9 97.05 791.2 95.3 791.5 99.06 791.8 96.6 792.1 97.15 792.4 98.42 792.7 96.87 793 96.25 793.3 95.27 793.6 96.9 793.9 99.28 794.2 97.42 794.5 99.03 794.8 98.16 795.1 96.91 795.4 95.97 795.7 97.24 796 98.09 796.3 97.29 796.6 97.72 796.9 98.16 797.2 97.25 797.5 96.19 797.8 97.35 798.1 98.3 798.4 96.92 798.7 96.72 799 96.81 799.3 97.62 799.6 97.77 799.9 97.87 800.2 96.9 800.5 98.55 800.8 98.24 801.1 98.27 801.4 97.7 801.7 98.8 802 99.65 802.3 100.76 802.6 101.38 802.9 101.34 803.2 101.9 803.5 100.87 803.8 103.17 804.1 103.54 804.4 103.75 804.7 102.92 805 103.68 805.3 103.65 805.6 103.14 805.9 104.48 806.2 103.44 806.5 103.32 806.8 105.77 807.1 105.86 807.4 106.25 807.7 105.06 808 105.63 808.3 106.25 808.6 105.43 808.9 103.86 809.2 108.27 809.5 107.37 809.8 107.48 810.1 106.41 810.4 105.62 810.7 106.61 811 106.92 811.3 105.35 811.6 106.36 811.9 107.5 812.2 108.49 812.5 107.59 812.8 106.57 813.1 105.69 813.4 109.03 813.7 107.11 814 107.76 814.3 107.02 814.6 105.64 814.9 109.18 815.2 107.67 815.5 108.23 815.8 106.2 816.1 106.96 816.4 108.37 816.7 106.64 817 106.27 817.3 105.86 817.6 105.63 817.9 107.83 818.2 107.13 818.5 105.68 818.8 109.33 819.1 109.38 819.4 109.56 819.7 106.83 820 109.1 820.3 110.6 820.6 108.55 820.9 109.09 821.2 109.95 821.5 108.46 821.8 111.01 822.1 112.09 822.4 112.07 822.7 113.2 823 112.09 823.3 112.27 823.6 112.41 823.9 112.19 824.2 112.26 824.5 113.12 824.8 114.31 825.1 114.38 825.4 115.55 825.7 116.05 826 117.14 826.3 116.5 826.6 115.46 826.9 117.1 827.2 120.52 827.5 119.88 827.8 119.23 828.1 119.86 828.4 120.18 828.7 119.99 829 120.86 829.3 121.56 829.6 122.29 829.9 120.9 830.2 121.17 830.5 121.33 830.8 121.89 831.1 123.14 831.4 121.5 831.7 124.69 832 123.23 832.3 123.99 832.6 122.16 832.9 122.89 833.2 122.94 833.5 123.71 833.8 121.81 834.1 124.59 834.4 122.64 834.7 124.97 835 125.87 835.3 125.03 835.6 125.17 835.9 125.43 836.2 125.63 836.5 126.37 836.8 127.27 837.1 127.26 837.4 128.38 837.7 127.22 838 126.86 838.3 127.16 838.6 126.64 838.9 127.75 839.2 127.8 839.5 130.45 839.8 129.43 840.1 130.81 840.4 126.87 840.7 128.88 841 129.4 841.3 128.48 841.6 127.48 841.9 127.9 842.2 127.62 842.5 127.43 842.8 127.36 843.1 127.83 843.4 126.89 843.7 126.74 844 126.26 844.3 126.49 844.6 125.1 844.9 126.19 845.2 125.07 845.5 126.04 845.8 124.38 846.1 124.71 846.4 124.37 846.7 123.32 847 125.17 847.3 124.74 847.6 124.64 847.9 126.08 848.2 124.75 848.5 125.3 848.8 126.67 849.1 128.25 849.4 126.13 849.7 127.91 850 126.7 850.3 125.97 850.6 127.51 850.9 128.49 851.2 127.68 851.5 128.19 851.8 126.88 852.1 125.78 852.4 128.09 852.7 126.2 853 127.34 853.3 126.54 853.6 127.14 853.9 127.64 854.2 124.88 854.5 126.2 854.8 125.99 855.1 127.5 855.4 126.65 855.7 126.21 856 126.88 856.3 129.71 856.6 127.46 856.9 128.84 857.2 129.5 857.5 128.52 857.8 129.3 858.1 128.58 858.4 130.09 858.7 132.13 859 132.23 859.3 130.66 859.6 134.53 859.9 132.31 860.2 133.22 860.5 136.33 860.8 135.72 861.1 135.72 861.4 137.84 861.7 136.81 862 137.77 862.3 137.23 862.6 137.97 862.9 138.31 863.2 139.77 863.5 138.33 863.8 139.05 864.1 137.37 864.4 138.12 864.7 140.82 865 140.02 865.3 140.36 865.6 141.6 865.9 140.14 866.2 139.65 866.5 138.34 866.8 135.68 867.1 137.39 867.4 137.34 867.7 136.11 868 134.06 868.3 133.34 868.6 133.87 868.9 135.41 869.2 135.51 869.5 134.38 869.8 135 870.1 135.34 870.4 135.37 870.7 135.74 871 136.64 871.3 134.77 871.6 137.96 871.9 137.54 872.2 137.19 872.5 138.63 872.8 138.47 873.1 140.35 873.4 137.96 873.7 139.06 874 139.25 874.3 138 874.6 137.52 874.9 139.05 875.2 138.2 875.5 137.59 875.8 137.01 876.1 138.98 876.4 139.97 876.7 138.4 877 139.9 877.3 140.91 877.6 141.27 877.9 140.15 878.2 141.71 878.5 142.32 878.8 144.62 879.1 142.76 879.4 144.05 879.7 144.28 880 144.27 880.3 142.23 880.6 143.08 880.9 143.86 881.2 141.59 881.5 141.78 881.8 140.35 882.1 140.97 882.4 140.63 882.7 140.55 883 139.05 883.3 138.6 883.6 138.04 883.9 138.44 884.2 137.93 884.5 140.06 884.8 137.6 885.1 139.26 885.4 138.42 885.7 138.86 886 140.75 886.3 140.47 886.6 140.94 886.9 139.48 887.2 143.69 887.5 143.56 887.8 141.2 888.1 140.38 888.4 140.51 888.7 140.96 889 139.33 889.3 140.03 889.6 138.63 889.9 141.48 890.2 138.08 890.5 137.37 890.8 139.29 891.1 137.17 891.4 136.37 891.7 135.84 892 135.95 892.3 134.49 892.6 135.22 892.9 134.77 893.2 134.18 893.5 135.38 893.8 136.05 894.1 137.63 894.4 136.49 894.7 136.13 895 136.78 895.3 137.44 895.6 134.85 895.9 136.84 896.2 135.33 896.5 135.93 896.8 137.11 897.1 137.89 897.4 138.26 897.7 138.53 898 139.9 898.3 139.26 898.6 139.4 898.9 138.92 899.2 141.33 899.5 140.91 899.8 139.28 900.1 139.49 900.4 141.01 900.7 141.44 901 140.36 901.3 141.97 901.6 139.92 901.9 141.13 902.2 142.48 902.5 141.13 902.8 142.04 903.1 142.12 903.4 142.18 903.7 140.91 904 142.72 904.3 143.51 904.6 143.83 904.9 144.68 905.2 145.16 905.5 144.2 905.8 144.63 906.1 146.79 906.4 146.31 906.7 145.77 907 145.85 907.3 147.39 907.6 147.7 907.9 146.87 908.2 147.71 908.5 147.37 908.8 147.24 909.1 149.05 909.4 145.93 909.7 147.87 910 146.05 910.3 146.35 910.6 147.81 910.9 145.64 911.2 145.95 911.5 145.71 911.8 146.19 912.1 147.02 912.4 147.81 912.7 145.98 913 147.47 913.3 145.32 913.6 148.55 913.9 146.2 914.2 146.47 914.5 147.51 914.8 147.64 915.1 147.69 915.4 146.5 915.7 149.3 916 149.47 916.3 148.68 916.6 148.23 916.9 149.94 917.2 151.09 917.5 148.77 917.8 149.87 918.1 151.56 918.4 151.16 918.7 152.11 919 152.85 919.3 154.21 919.6 154.7 919.9 155.4 920.2 155.82 920.5 154.8 920.8 153.55 921.1 156.72 921.4 157.34 921.7 157.84 922 157.23 922.3 160.27 922.6 157.23 922.9 160.44 923.2 161.02 923.5 162.08 923.8 163.31 924.1 163.19 924.4 163.79 924.7 163.94 925 165.74 925.3 166.14 925.6 167.3 925.9 166.15 926.2 166.46 926.5 168.54 926.8 169.51 927.1 168 927.4 169.03 927.7 170.2 928 171.35 928.3 171.89 928.6 173.07 928.9 172.45 929.2 173.55 929.5 174.91 929.8 173.97 930.1 177.2 930.4 175.34 930.7 176.56 931 175.31 931.3 177.81 931.6 178.1 931.9 178.72 932.2 180.37 932.5 179.73 932.8 181.76 933.1 180.31 933.4 182.51 933.7 185.06 934 184.59 934.3 185.69 934.6 184.8 934.9 184.99 935.2 188.23 935.5 188.46 935.8 188.89 936.1 188.64 936.4 190.38 936.7 189.41 937 191.09 937.3 191.65 937.6 190.72 937.9 193.58 938.2 192.91 938.5 194.17 938.8 192.49 939.1 193.39 939.4 194.73 939.7 196.24 940 197.47 940.3 197.29 940.6 197.4 940.9 198.68 941.2 198.48 941.5 199.47 941.8 200.3 942.1 199.83 942.4 201.51 942.7 200.28 943 201.5 943.3 203.56 943.6 202.87 943.9 204.58 944.2 204.93 944.5 205.11 944.8 207.34 945.1 206.77 945.4 206.17 945.7 206.69 946 207.76 946.3 206.62 946.6 209.66 946.9 208.91 947.2 207.74 947.5 208.9 947.8 211.7 948.1 210.99 948.4 213.34 948.7 211.68 949 212.56 949.3 214.47 949.6 215.09 949.9 212.9 950.2 215.5 950.5 214.41 950.8 215.8 951.1 215.36 951.4 218.47 951.7 217.71 952 218.76 952.3 222.23 952.6 222.03 952.9 221.81 953.2 221.03 953.5 223.9 953.8 222.12 954.1 224.29 954.4 226.63 954.7 227.56 955 227.71 955.3 229.16 955.6 229.34 955.9 229.18 956.2 230.76 956.5 233.24 956.8 232.28 957.1 233.29 957.4 234.12 957.7 232.81 958 233.76 958.3 233.81 958.6 236.3 958.9 236.18 959.2 235.91 959.5 236.48 959.8 239.03 960.1 239.72 960.4 239.9 960.7 240.04 961 240.88 961.3 240.77 961.6 241.48 961.9 241.1 962.2 240.87 962.5 241.51 962.8 242.87 963.1 244.65 963.4 242.52 963.7 242.64 964 244.82 964.3 245.2 964.6 244.14 964.9 244.64 965.2 245 965.5 246.28 965.8 249.59 966.1 246.47 966.4 248.09 966.7 247.91 967 249.16 967.3 250.03 967.6 250.51 967.9 249.85 968.2 250.48 968.5 252.98 968.8 252.94 969.1 253.47 969.4 254.46 969.7 253.76 970 256.3 970.3 254.92 970.6 254.97 970.9 255.34 971.2 256.49 971.5 259.51 971.8 257.25 972.1 257.79 972.4 259.32 972.7 257.74 973 257.01 973.3 258.07 973.6 258.62 973.9 257.67 974.2 259.32 974.5 259.98 974.8 262.19 975.1 261.26 975.4 260.86 975.7 260.47 976 260.49 976.3 259.66 976.6 261.55 976.9 259.7 977.2 262.02 977.5 264.03 977.8 262.26 978.1 263.3 978.4 262.26 978.7 261.51 979 263.86 979.3 263.6 979.6 264.55 979.9 264.45 980.2 265.17 980.5 264.35 980.8 265.58 981.1 266.29 981.4 265.05 981.7 265.61 982 267.33 982.3 267.13 982.6 266.78 982.9 265.84 983.2 267.43 983.5 269.53 983.8 267.98 984.1 268.59 984.4 268.24 984.7 269.37 985 269.83 985.3 270.47 985.6 269.9 985.9 269.79 986.2 273.31 986.5 271.75 986.8 271.11 987.1 272.14 987.4 273.13 987.7 273.85 988 273.08 988.3 272.46 988.6 273.28 988.9 271.42 989.2 271.86 989.5 274.01 989.8 272.99 990.1 272.73 990.4 272.17 990.7 271.65 991 273.04 991.3 272.83 991.6 274.49 991.9 271.96 992.2 272.8 992.5 272.44 992.8 271.91 993.1 274.58 993.4 274.14 993.7 272.98 994 271.62 994.3 273.45 994.6 273.78 994.9 272.85 995.2 272.02 995.5 275.52 995.8 272.55 996.1 275.12 996.4 273.54 996.7 273.97 997 275.5 997.3 273.53 997.6 274.48 997.9 274.91 998.2 276.27 998.5 276.26 998.8 275.55 999.1 274.35 999.4 276.9 999.7 275.47 1000 276.31 1000.3 274.36 1000.6 276.17 1000.9 276.99 1001.2 276.29 1001.5 277.39 1001.8 278.22 1002.1 278.65 1002.4 276.69 1002.7 275.87 1003 275.11 1003.3 277.36 1003.6 276.22 1003.9 278.43 1004.2 276.04 1004.5 279.32 1004.8 278.46 1005.1 276.98 1005.4 278.97 1005.7 279.42 1006 279.55 1006.3 279.13 1006.6 279.9 1006.9 279.95 1007.2 279.24 1007.5 279.81 1007.8 278.58 1008.1 280.77 1008.4 279.35 1008.7 281.29 1009 281.15 1009.3 284.09 1009.6 283.21 1009.9 281.91 1010.2 283.08 1010.5 282.49 1010.8 283.24 1011.1 282.51 1011.4 282.31 1011.7 282.02 1012 280.5 1012.3 282.49 1012.6 282.64 1012.9 280.84 1013.2 282.19 1013.5 282.73 1013.8 282.37 1014.1 282.65 1014.4 282.16 1014.7 280.76 1015 283.72 1015.3 282.05 1015.6 281.81 1015.9 284.24 1016.2 282.51 1016.5 284.45 1016.8 283.22 1017.1 285.56 1017.4 286.09 1017.7 284.76 1018 286.18 1018.3 286.72 1018.6 286.33 1018.9 287.32 1019.2 287.1 1019.5 286.96 1019.8 287.02 1020.1 288.68 1020.4 289.34 1020.7 290.02 1021 290.08 1021.3 290.68 1021.6 289.44 1021.9 291.29 1022.2 288.54 1022.5 289.9 1022.8 288.76 1023.1 288.43 1023.4 290.51 1023.7 288.8 1024 286.94 1024.3 288.21 1024.6 287.18 1024.9 289.24 1025.2 286.38 1025.5 287.03 1025.8 286.22 1026.1 285.94 1026.4 287 1026.7 287.18 1027 287.03 1027.3 285.42 1027.6 284.71 1027.9 285.54 1028.2 284.35 1028.5 286.02 1028.8 282.85 1029.1 284.39 1029.4 282.47 1029.7 282.43 1030 281.57 1030.3 281.58 1030.6 283.1 1030.9 281.61 1031.2 280.99 1031.5 280.57 1031.8 280.59 1032.1 281.03 1032.4 282.76 1032.7 282.37 1033 282.75 1033.3 283.13 1033.6 284.4 1033.9 283.23 1034.2 284.9 1034.5 283.95 1034.8 284.45 1035.1 286.56 1035.4 286.44 1035.7 286.64 1036 286.33 1036.3 288.07 1036.6 290.1 1036.9 288.86 1037.2 289.21 1037.5 288.9 1037.8 290.5 1038.1 289.3 1038.4 292.91 1038.7 290.62 1039 290.77 1039.3 292.26 1039.6 290.31 1039.9 291.06 1040.2 291.37 1040.5 292.2 1040.8 294.48 1041.1 292.18 1041.4 295.93 1041.7 295.02 1042 296.17 1042.3 295.4 1042.6 294.25 1042.9 295.12 1043.2 298.15 1043.5 297.1 1043.8 298.32 1044.1 298.82 1044.4 300.55 1044.7 300.93 1045 300.54 1045.3 300.87 1045.6 302.3 1045.9 300.83 1046.2 301.76 1046.5 301.71 1046.8 302.49 1047.1 301.98 1047.4 304.39 1047.7 303.38 1048 305.47 1048.3 303.48 1048.6 304.15 1048.9 303.48 1049.2 304.75 1049.5 304.7 1049.8 303.86 1050.1 304.59 1050.4 303.6 1050.7 303.88 1051 303.51 1051.3 305.43 1051.6 303.73 1051.9 303.65 1052.2 305.4 1052.5 303.93 1052.8 302.27 1053.1 302.08 1053.4 302.17 1053.7 301.23 1054 301.81 1054.3 300.3 1054.6 299.86 1054.9 301.39 1055.2 301.85 1055.5 301.09 1055.8 298.98 1056.1 299.48 1056.4 298.34 1056.7 299.88 1057 297.99 1057.3 297.76 1057.6 299.33 1057.9 298.88 1058.2 297.96 1058.5 297.03 1058.8 297.84 1059.1 297 1059.4 300.21 1059.7 298.57 1060 299.6 1060.3 299.29 1060.6 298.56 1060.9 299.74 1061.2 300.01 1061.5 299.77 1061.8 299.97 1062.1 300.51 1062.4 299.42 1062.7 300.42 1063 300.26 1063.3 300.14 1063.6 301.21 1063.9 299.11 1064.2 300.11 1064.5 301.48 1064.8 303.41 1065.1 302.69 1065.4 301.62 1065.7 303.99 1066 302.95 1066.3 302.37 1066.6 303.13 1066.9 304.96 1067.2 304.49 1067.5 303.24 1067.8 303.12 1068.1 304.96 1068.4 303.47 1068.7 304.36 1069 305.74 1069.3 304.27 1069.6 304.77 1069.9 306.02 1070.2 305.8 1070.5 307.6 1070.8 306.59 1071.1 307.45 1071.4 307.76 1071.7 306.81 1072 308.45 1072.3 309.18 1072.6 307.98 1072.9 307.86 1073.2 308.42 1073.5 310.31 1073.8 309.18 1074.1 308.98 1074.4 308.5 1074.7 309.94 1075 308.44 1075.3 310.42 1075.6 308.51 1075.9 307.82 1076.2 309.79 1076.5 308.94 1076.8 308.84 1077.1 307.26 1077.4 308.68 1077.7 308 1078 307.64 1078.3 308.12 1078.6 308.06 1078.9 306.74 1079.2 308.1 1079.5 306.87 1079.8 306.05 1080.1 306.65 1080.4 306.46 1080.7 307.9 1081 306.83 1081.3 306.62 1081.6 306.94 1081.9 307.9 1082.2 305.77 1082.5 306.2 1082.8 307.4 1083.1 308.27 1083.4 308.62 1083.7 307.88 1084 306.83 1084.3 306.46 1084.6 308.51 1084.9 308.44 1085.2 309.32 1085.5 310.17 1085.8 308.55 1086.1 310.91 1086.4 309.35 1086.7 309.76 1087 310.03 1087.3 307.94 1087.6 312.02 1087.9 309.35 1088.2 310.66 1088.5 308.85 1088.8 307.87 1089.1 308.32 1089.4 308.17 1089.7 307.34 1090 306.64 1090.3 309.76 1090.6 308.28 1090.9 309.01 1091.2 310.02 1091.5 308.23 1091.8 308.69 1092.1 309.67 1092.4 309.24 1092.7 309.25 1093 308.29 1093.3 308.49 1093.6 310.28 1093.9 309.52 1094.2 310.82 1094.5 310.83 1094.8 310.72 1095.1 311.16 1095.4 310.89 1095.7 312.01 1096 308.98 1096.3 310.5 1096.6 311.71 1096.9 313.2 1097.2 310.13 1097.5 311.42 1097.8 312.54 1098.1 313.55 1098.4 312.03 1098.7 310.66 1099 312.1 1099.3 311.62 1099.6 311.09 1099.9 311.19 1100.2 311.47 1100.5 310.27 1100.8 311.68 1101.1 312.06 1101.4 311.36 1101.7 310.64 1102 310.99 1102.3 312.38 1102.6 311.19 1102.9 313.18 1103.2 312.27 1103.5 311.93 1103.8 313.11 1104.1 312.39 1104.4 314.62 1104.7 314.04 1105 312.06 1105.3 312.61 1105.6 311.19 1105.9 314.11 1106.2 313.95 1106.5 313.91 1106.8 312.51 1107.1 315.61 1107.4 315.5 1107.7 314.04 1108 314.05 1108.3 314.37 1108.6 315.82 1108.9 315.56 1109.2 315.32 1109.5 315.4 1109.8 314.65 1110.1 315.72 1110.4 314.96 1110.7 317.95 1111 317.25 1111.3 317.63 1111.6 317.55 1111.9 317.33 1112.2 316.61 1112.5 318.12 1112.8 318.78 1113.1 319.05 1113.4 320.52 1113.7 320.74 1114 319.06 1114.3 319.37 1114.6 321.4 1114.9 318.46 1115.2 320.54 1115.5 321.76 1115.8 321.33 1116.1 320.95 1116.4 322.24 1116.7 321.2 1117 321.16 1117.3 322.35 1117.6 322.07 1117.9 322.81 1118.2 323.46 1118.5 323.7 1118.8 320.07 1119.1 322.82 1119.4 323.1 1119.7 323.44 1120 322.36 1120.3 322.43 1120.6 323.15 1120.9 322.08 1121.2 321.28 1121.5 323.67 1121.8 323.7 1122.1 321.92 1122.4 324.21 1122.7 322.34 1123 323.64 1123.3 322.06 1123.6 323.39 1123.9 322.72 1124.2 322.99 1124.5 323.87 1124.8 324.22 1125.1 322.73 1125.4 325.21 1125.7 322.94 1126 322.28 1126.3 323.6 1126.6 325.82 1126.9 323.54 1127.2 322.74 1127.5 323.46 1127.8 324.52 1128.1 324.81 1128.4 324.7 1128.7 325.15 1129 325.97 1129.3 323.95 1129.6 324.12 1129.9 323.58 1130.2 323.79 1130.5 324.47 1130.8 323.49 1131.1 322 1131.4 323.73 1131.7 324.19 1132 322.77 1132.3 324.28 1132.6 323.29 1132.9 320.65 1133.2 321.45 1133.5 320.59 1133.8 321 1134.1 320.46 1134.4 321.32 1134.7 321.55 1135 318.79 1135.3 321.31 1135.6 320.23 1135.9 321.14 1136.2 319.69 1136.5 317.54 1136.8 319.47 1137.1 319.76 1137.4 319.96 1137.7 319.84 1138 319.2 1138.3 319.68 1138.6 320.13 1138.9 320.26 1139.2 321.67 1139.5 322.34 1139.8 323.12 1140.1 323.04 1140.4 322.88 1140.7 323.76 1141 322.91 1141.3 321.68 1141.6 323.32 1141.9 322.14 1142.2 321.87 1142.5 322.9 1142.8 321.99 1143.1 321.87 1143.4 322.91 1143.7 321.88 1144 321.49 1144.3 320.99 1144.6 319.12 1144.9 318.89 1145.2 320.6 1145.5 324.04 1145.8 321.81 1146.1 321.75 1146.4 322.97 1146.7 323.78 1147 323.25 1147.3 323.67 1147.6 323.68 1147.9 323.18 1148.2 323.23 1148.5 321.49 1148.8 323.49 1149.1 323.32 1149.4 323.46 1149.7 323.95 1150 321.47 1150.3 321.46 1150.6 323.14 1150.9 320.68 1151.2 322.27 1151.5 321.93 1151.8 322.21 1152.1 320.7 1152.4 321.93 1152.7 319.99 1153 321.77 1153.3 320.8 1153.6 320.22 1153.9 320.62 1154.2 321.88 1154.5 319.78 1154.8 320.81 1155.1 319.95 1155.4 322.3 1155.7 322.25 1156 320.84 1156.3 321.66 1156.6 320.99 1156.9 322.3 1157.2 323.46 1157.5 322.08 1157.8 322.83 1158.1 321.38 1158.4 324.55 1158.7 320.99 1159 321.54 1159.3 320.33 1159.6 321 1159.9 319 1160.2 318.09 1160.5 316.44 1160.8 318.21 1161.1 314.58 1161.4 317.1 1161.7 316.12 1162 316.74 1162.3 314.1 1162.6 314.38 1162.9 315.36 1163.2 316.35 1163.5 314.31 1163.8 316.62 1164.1 314.38 1164.4 316.28 1164.7 315.71 1165 315.94 1165.3 315.76 1165.6 316.58 1165.9 314.25 1166.2 317.08 1166.5 315.67 1166.8 316.16 1167.1 315.73 1167.4 317.31 1167.7 317.2 1168 316.59 1168.3 316.19 1168.6 319.07 1168.9 317.18 1169.2 318.11 1169.5 317.41 1169.8 318.91 1170.1 319.36 1170.4 319.21 1170.7 320.07 1171 320.69 1171.3 317.5 1171.6 319.5 1171.9 319.5 1172.2 321.9 1172.5 322.1 1172.8 321.2 1173.1 324.52 1173.4 323.65 1173.7 325.65 1174 323.65 1174.3 324.65 1174.6 324.61 1174.9 322.57 1175.2 322.8 1175.5 321.99 1175.8 321.18 1176.1 321.42 1176.4 318.74 1176.7 320.89 1177 319.83 1177.3 318.2 1177.6 320.08 1177.9 317.43 1178.2 318.22 1178.5 320.48 1178.8 319.83 1179.1 318.63 1179.4 320.66 1179.7 318.92 1180 319.03 1180.3 319.22 1180.6 319.82 1180.9 319.65 1181.2 318.18 1181.5 318.69 1181.8 319.65 1182.1 320.16 1182.4 319.29 1182.7 319.89 1183 319.84 1183.3 317.97 1183.6 318.75 1183.9 321.02 1184.2 318.75 1184.5 319.81 1184.8 317.88 1185.1 322.23 1185.4 318.56 1185.7 320.05 1186 319.97 1186.3 318.01 1186.6 319.43 1186.9 320.78 1187.2 319.13 1187.5 320.77 1187.8 319.61 1188.1 321.2 1188.4 322.37 1188.7 319.38 1189 321.05 1189.3 320.32 1189.6 320.36 1189.9 321.6 1190.2 322.08 1190.5 322.61 1190.8 322.87 1191.1 320.57 1191.4 322.54 1191.7 321.23 1192 323.77 1192.3 324.45 1192.6 324.06 1192.9 323.42 1193.2 324.45 1193.5 325.03 1193.8 324.93 1194.1 324 1194.4 324.34 1194.7 326.1 1195 325 1195.3 325.55 1195.6 325.8 1195.9 326.72 1196.2 327.05 1196.5 326.58 1196.8 326.92 1197.1 327.35 1197.4 328.15 1197.7 328.96 1198 327.38 1198.3 330.65 1198.6 328.47 1198.9 329.98 1199.2 329.19 1199.5 330.13 1199.8 330.93 1200.1 331.91 1200.4 332 1200.7 332.95 1201 332.2 1201.3 334.44 1201.6 331.62 1201.9 333.71 1202.2 334.08 1202.5 333.62 1202.8 334.32 1203.1 333.81 1203.4 335.33 1203.7 334.84 1204 336.27 1204.3 336.19 1204.6 336.52 1204.9 336.53 1205.2 335.87 1205.5 337.7 1205.8 338.11 1206.1 337.27 1206.4 336.84 1206.7 337.56 1207 339.48 1207.3 337.1 1207.6 339.3 1207.9 338.88 1208.2 340.2 1208.5 338.3 1208.8 340.42 1209.1 339.23 1209.4 341 1209.7 342.39 1210 340.78 1210.3 343.1 1210.6 341.56 1210.9 342.47 1211.2 344.27 1211.5 343.26 1211.8 343.03 1212.1 340.57 1212.4 342.45 1212.7 344.02 1213 343.31 1213.3 343.49 1213.6 345.32 1213.9 343.86 1214.2 344.53 1214.5 346.72 1214.8 348.41 1215.1 346.11 1215.4 347.35 1215.7 348.18 1216 347.41 1216.3 347.62 1216.6 349.25 1216.9 348.19 1217.2 348.91 1217.5 351.72 1217.8 348.19 1218.1 352.13 1218.4 351.79 1218.7 349.98 1219 351.87 1219.3 351.1 1219.6 350.16 1219.9 350.68 1220.2 350.68 1220.5 353.09 1220.8 350.56 1221.1 350.63 1221.4 351.67 1221.7 351.57 1222 354.49 1222.3 352.05 1222.6 351.99 1222.9 352.1 1223.2 352.24 1223.5 351.2 1223.8 353.59 1224.1 353.25 1224.4 354.13 1224.7 356.06 1225 356.34 1225.3 356.56 1225.6 355.32 1225.9 356.59 1226.2 356.62 1226.5 357.27 1226.8 357.9 1227.1 357.94 1227.4 359.97 1227.7 358.68 1228 361.21 1228.3 360.73 1228.6 360.65 1228.9 361.68 1229.2 361.02 1229.5 361.16 1229.8 362.61 1230.1 361.48 1230.4 366.07 1230.7 360.83 1231 360.83 1231.3 363.54 1231.6 361.91 1231.9 361.9 1232.2 361.61 1232.5 362.54 1232.8 362.13 1233.1 363.76 1233.4 362.52 1233.7 363.26 1234 364.03 1234.3 363.76 1234.6 363.17 1234.9 362.76 1235.2 362.45 1235.5 362.54 1235.8 364.94 1236.1 363.8 1236.4 364.1 1236.7 364.85 1237 365.15 1237.3 366 1237.6 365.59 1237.9 365.05 1238.2 364.29 1238.5 366.04 1238.8 365.65 1239.1 365.88 1239.4 365.21 1239.7 366.52 1240 367.21 1240.3 366.38 1240.6 367.12 1240.9 366.31 1241.2 365.75 1241.5 367.08 1241.8 365.41 1242.1 365.75 1242.4 363.8 1242.7 365.94 1243 364.49 1243.3 364.57 1243.6 364.11 1243.9 364.58 1244.2 363.51 1244.5 362.85 1244.8 363.85 1245.1 363.77 1245.4 362.81 1245.7 363.78 1246 364.24 1246.3 362.65 1246.6 364.03 1246.9 364.25 1247.2 362.47 1247.5 362.98 1247.8 362.2 1248.1 365.97 1248.4 364.37 1248.7 364.64 1249 365.85 1249.3 367.01 1249.6 366.1 1249.9 367.45 1250.2 367.35 1250.5 369.99 1250.8 365.54 1251.1 366.24 1251.4 365.67 1251.7 366.79 1252 365.09 1252.3 366.43 1252.6 363.52 1252.9 366.13 1253.2 365.4 1253.5 366.13 1253.8 365.04 1254.1 364.27 1254.4 364.23 1254.7 361.59 1255 363.09 1255.3 363.24 1255.6 364.61 1255.9 362.68 1256.2 360.74 1256.5 364.35 1256.8 361.19 1257.1 362.2 1257.4 361.13 1257.7 358.63 1258 362.93 1258.3 361.64 1258.6 362.9 1258.9 361.5 1259.2 362.75 1259.5 363.73 1259.8 362.76 1260.1 362 1260.4 361.61 1260.7 362.13 1261 360.8 1261.3 362.24 1261.6 362.79 1261.9 360.65 1262.2 360.87" stroke="#0000ff" stroke-width="3.2" fill="none" stroke-linejoin="round" stroke-linecap="square"/>
<path d="M199.5 383V54M467.5 383V54M736.5 383V54M1004.5 383V54" stroke="#000" stroke-width="3.125" stroke-dasharray="11.56 5" fill="none"/>
<rect x="188" y="54" width="1162" height="329" fill="none" stroke="#000" stroke-width="2"/>
<path d="M188 383H180.71M1350 383H1357.29M188 317H180.71M1350 317H1357.29M188 251H180.71M1350 251H1357.29M188 185H180.71M1350 185H1357.29M188 120H180.71M1350 120H1357.29M188 54H180.71M1350 54H1357.29M188 383V390.29M277 383V390.29M366 383V390.29M456 383V390.29M545 383V390.29M635 383V390.29M724 383V390.29M813 383V390.29M903 383V390.29M992 383V390.29M1082 383V390.29M1171 383V390.29M1261 383V390.29M1350 383V390.29" stroke="#000" stroke-width="1.67" fill="none"/>
<rect x="187.5" y="10.8" width="425.6" height="36.6" rx="4.17" ry="4.17" fill="#fff" fill-opacity="0.8" stroke="#cccccc" stroke-opacity="0.8" stroke-width="1.67"/>
<path d="M195 28.4H240" stroke="#0000ff" stroke-width="3.125" fill="none"/>
<rect x="480.3" y="21.3" width="41.4" height="13.4" fill="#808080" fill-opacity="0.2" stroke="#808080" stroke-opacity="0.14" stroke-width="2.08"/>
<text xml:space="preserve" x="101" y="389.6" font-size="22.85" textLength="70.8" lengthAdjust="spacingAndGlyphs">1009.0</text>
<text xml:space="preserve" x="101" y="324.6" font-size="22.85" textLength="70.8" lengthAdjust="spacingAndGlyphs">1013.6</text>
<text xml:space="preserve" x="101" y="258.6" font-size="22.85" textLength="69.8" lengthAdjust="spacingAndGlyphs">1018.2</text>
<text xml:space="preserve" x="101" y="192.6" font-size="22.85" textLength="69.8" lengthAdjust="spacingAndGlyphs">1022.8</text>
<text xml:space="preserve" x="101" y="127.6" font-size="22.85" textLength="69.9" lengthAdjust="spacingAndGlyphs">1027.4</text>
<text xml:space="preserve" x="101" y="61.6" font-size="22.85" textLength="69.8" lengthAdjust="spacingAndGlyphs">1032.0</text>
<text xml:space="preserve" x="1365" y="389.6" font-size="22.85" textLength="44.8" lengthAdjust="spacingAndGlyphs">29.8</text>
<text xml:space="preserve" x="1365" y="324.6" font-size="22.85" textLength="57.9" lengthAdjust="spacingAndGlyphs">29.94</text>
<text xml:space="preserve" x="1366" y="258.6" font-size="22.85" textLength="56.8" lengthAdjust="spacingAndGlyphs">30.07</text>
<text xml:space="preserve" x="1366" y="192.6" font-size="22.85" textLength="56.8" lengthAdjust="spacingAndGlyphs">30.21</text>
<text xml:space="preserve" x="1366" y="127.6" font-size="22.85" textLength="56.9" lengthAdjust="spacingAndGlyphs">30.34</text>
<text xml:space="preserve" x="1366" y="61.6" font-size="22.85" textLength="56.8" lengthAdjust="spacingAndGlyphs">30.48</text>
<text xml:space="preserve" x="175" y="412.6" font-size="22.85" textLength="23.8" lengthAdjust="spacingAndGlyphs">22</text>
<text xml:space="preserve" x="272" y="412.6" font-size="22.85" textLength="11.8" lengthAdjust="spacingAndGlyphs">6</text>
<text xml:space="preserve" x="354" y="412.6" font-size="22.85" textLength="22.9" lengthAdjust="spacingAndGlyphs">14</text>
<text xml:space="preserve" x="443" y="412.6" font-size="22.85" textLength="23.8" lengthAdjust="spacingAndGlyphs">22</text>
<text xml:space="preserve" x="540" y="412.6" font-size="22.85" textLength="11.8" lengthAdjust="spacingAndGlyphs">6</text>
<text xml:space="preserve" x="623" y="412.6" font-size="22.85" textLength="22.9" lengthAdjust="spacingAndGlyphs">14</text>
<text xml:space="preserve" x="711" y="412.6" font-size="22.85" textLength="23.8" lengthAdjust="spacingAndGlyphs">22</text>
<text xml:space="preserve" x="808" y="412.6" font-size="22.85" textLength="11.8" lengthAdjust="spacingAndGlyphs">6</text>
<text xml:space="preserve" x="891" y="412.6" font-size="22.85" textLength="22.9" lengthAdjust="spacingAndGlyphs">14</text>
<text xml:space="preserve" x="980" y="412.6" font-size="22.85" textLength="23.8" lengthAdjust="spacingAndGlyphs">22</text>
<text xml:space="preserve" x="1077" y="412.6" font-size="22.85" textLength="11.8" lengthAdjust="spacingAndGlyphs">6</text>
<text xml:space="preserve" x="1159" y="412.6" font-size="22.85" textLength="22.9" lengthAdjust="spacingAndGlyphs">14</text>
<text xml:space="preserve" x="1248" y="412.6" font-size="22.85" textLength="23.8" lengthAdjust="spacingAndGlyphs">22</text>
<text xml:space="preserve" x="1345" y="412.6" font-size="22.85" textLength="11.8" lengthAdjust="spacingAndGlyphs">6</text>
<text transform="translate(88 236) rotate(-90)" x="0" y="0" font-size="21.7" textLength="30.8" lengthAdjust="spacingAndGlyphs">mb</text>
<text xml:space="preserve" x="540" y="34.6" font-size="22.85" textLength="64.9" lengthAdjust="spacingAndGlyphs">NIGHT</text>
<text xml:space="preserve" x="208" y="86.1" font-size="22.85" textLength="57.8" lengthAdjust="spacingAndGlyphs" opacity="0.8">02/22</text>
<text xml:space="preserve" x="476.6" y="86.1" font-size="22.85" textLength="57.8" lengthAdjust="spacingAndGlyphs" opacity="0.8">02/23</text>
<text xml:space="preserve" x="745.3" y="86.1" font-size="22.85" textLength="57.8" lengthAdjust="spacingAndGlyphs" opacity="0.8">02/24</text>
<text xml:space="preserve" x="1013.8" y="86.1" font-size="22.85" textLength="57.8" lengthAdjust="spacingAndGlyphs" opacity="0.8">02/25</text>
<text xml:space="preserve" x="605" y="441" font-size="22.85" textLength="193.8" lengthAdjust="spacingAndGlyphs">02/21/26-02/25/26</text>
<text xml:space="preserve" x="814" y="441" font-size="22.85" textLength="116.8" lengthAdjust="spacingAndGlyphs">Hours(UTC)</text>
<text xml:space="preserve" x="254" y="34.6" font-size="22.85" textLength="32.8" lengthAdjust="spacingAndGlyphs">2m</text>
<text xml:space="preserve" x="295" y="34.6" font-size="22.85" textLength="42.8" lengthAdjust="spacingAndGlyphs">MSL</text>
<text xml:space="preserve" x="344" y="34.6" font-size="22.85" textLength="87.8" lengthAdjust="spacingAndGlyphs">Pressure</text>
<text transform="translate(1448 312) rotate(-90)" x="0" y="0" font-size="22.1" textLength="66.7" lengthAdjust="spacingAndGlyphs">Inches</text>
<text transform="translate(1448 238) rotate(-90)" x="0" y="0" font-size="22.1" textLength="20.9" lengthAdjust="spacingAndGlyphs">of</text>
<text transform="translate(1448 211) rotate(-90)" x="0" y="0" font-size="22.1" textLength="82.8" lengthAdjust="spacingAndGlyphs">Mercury</text>
</svg></body></html>
